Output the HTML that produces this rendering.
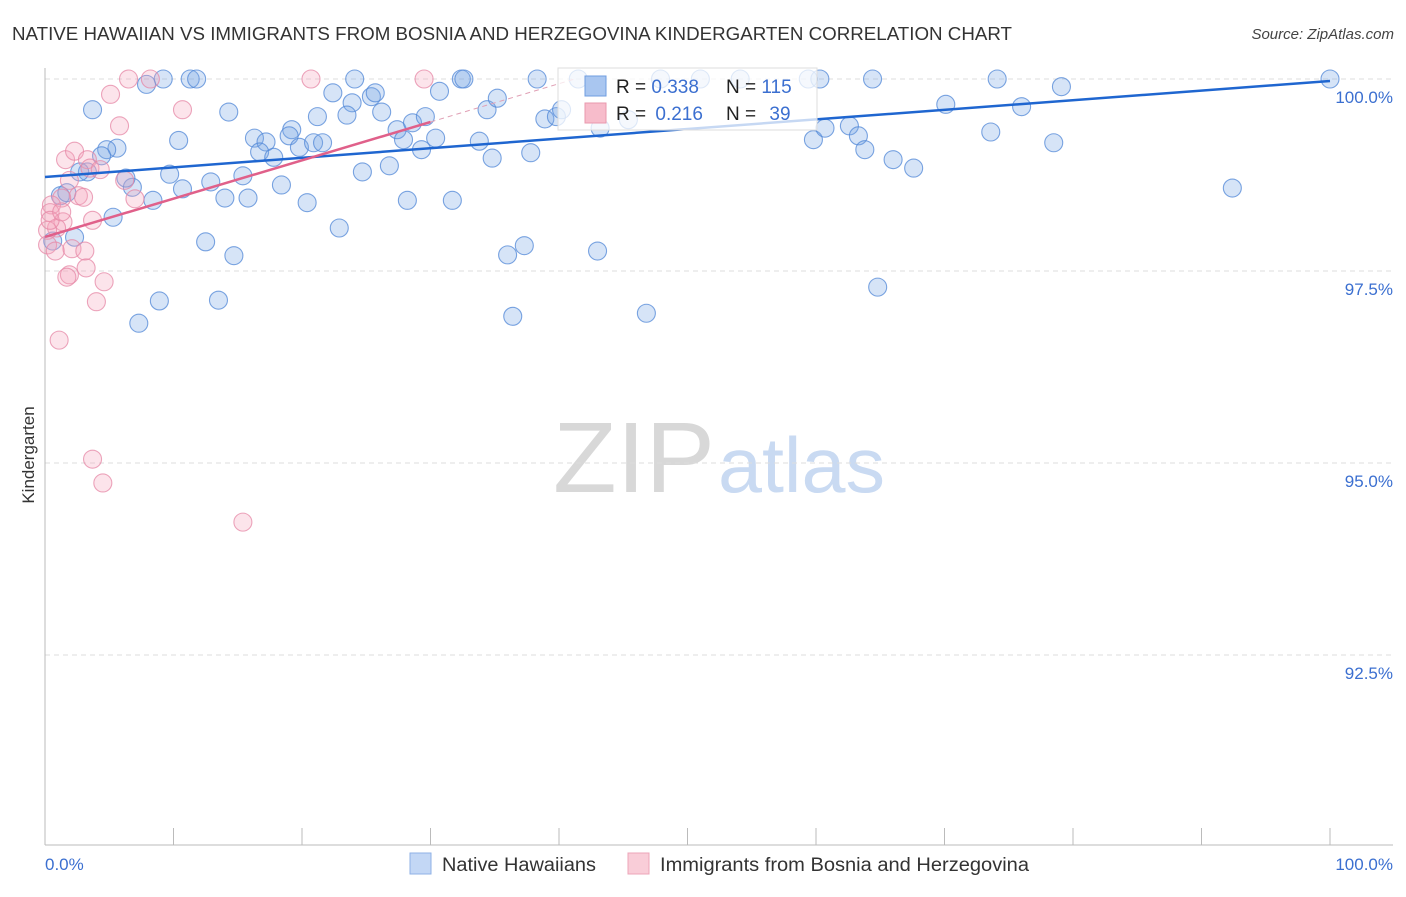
<!DOCTYPE html>
<html><head><meta charset="utf-8"><style>
body{margin:0;background:#fff;font-family:"Liberation Sans",sans-serif}
svg text{font-family:"Liberation Sans",sans-serif}
</style></head><body>
<svg id="chart" width="1406" height="892" xmlns="http://www.w3.org/2000/svg">
<text x="12" y="40" font-size="18" fill="#333" textLength="1000" lengthAdjust="spacingAndGlyphs">NATIVE HAWAIIAN VS IMMIGRANTS FROM BOSNIA AND HERZEGOVINA KINDERGARTEN CORRELATION CHART</text>
<text x="1394" y="39" font-size="15" fill="#444" text-anchor="end" font-style="italic">Source: ZipAtlas.com</text>
<g>
<text x="553" y="492" font-size="100" fill="#d8d8d8" font-family="Liberation Serif" textLength="162" lengthAdjust="spacingAndGlyphs">ZIP</text>
<text x="718" y="492" font-size="78" fill="#c9daf2" textLength="167" lengthAdjust="spacingAndGlyphs">atlas</text>
</g>
<g id="grid"></g>
<g id="axes"></g>
<g id="pts"></g>
<g id="trends"></g>
<g>
<rect x="558" y="68" width="259" height="62" fill="rgba(255,255,255,0.75)" stroke="#ddd"/>
<rect x="585" y="76" width="21" height="20" fill="#a9c6f0" stroke="#6f9de0"/>
<rect x="585" y="103" width="21" height="20" fill="#f7bccb" stroke="#ea98ae"/>
<text x="616" y="93" font-size="19" fill="#222">R = <tspan fill="#3b6fd0">0.338</tspan></text>
<text x="726" y="93" font-size="19" fill="#222">N = <tspan fill="#3b6fd0">115</tspan></text>
<text x="616" y="120" font-size="19" fill="#222">R = <tspan fill="#3b6fd0" dx="4">0.216</tspan></text>
<text x="726" y="120" font-size="19" fill="#222">N = <tspan fill="#3b6fd0" dx="8">39</tspan></text>
</g>
<text transform="translate(34,455) rotate(-90)" font-size="17" fill="#333" text-anchor="middle">Kindergarten</text>
<text x="45" y="870" font-size="17" fill="#3b6fd0">0.0%</text>
<text x="1393" y="870" font-size="17" fill="#3b6fd0" text-anchor="end">100.0%</text>
<g>
<rect x="410" y="853" width="21" height="21" fill="#c3d7f5" stroke="#8fb1e6"/>
<text x="442" y="871" font-size="19" fill="#333" textLength="154" lengthAdjust="spacingAndGlyphs">Native Hawaiians</text>
<rect x="628" y="853" width="21" height="21" fill="#f9cdd8" stroke="#eda5b8"/>
<text x="660" y="871" font-size="19" fill="#333" textLength="369" lengthAdjust="spacingAndGlyphs">Immigrants from Bosnia and Herzegovina</text>
</g>
</svg>
<script>
const yTicks=[100,97.5,95,92.5];
const yTickLabels=["100.0%","97.5%","95.0%","92.5%"];
const xTicks=[0,10,20,30,40,50,60,70,80,90,100];
const blueX=[9.2,11.3,11.8,7.9,3.7,14.3,10.4,5.6,4.8,4.4,3.3,2.7,1.2,1.7,6.8,6.3,8.4,10.7,12.9,14.0,15.4,15.8,9.7,5.3,2.3,0.6,12.5,14.7,8.9,13.5,7.3,16.3,17.2,16.7,17.8,19.2,19.0,19.8,20.9,21.6,21.2,22.4,23.9,24.1,25.4,25.7,23.5,26.2,24.7,26.8,18.4,20.4,22.9,27.4,27.9,28.6,29.6,29.3,30.4,30.7,32.4,32.6,34.4,35.2,33.8,34.8,37.8,28.2,31.7,36.0,37.3,36.4,43.0,46.8,38.3,41.5,38.9,39.8,40.2,43.2,45.4,47.9,51.0,54.1,59.4,60.3,59.8,60.7,62.6,63.3,63.8,64.4,66.0,67.6,64.8,70.1,73.6,74.1,76.0,79.1,78.5,92.4,100];
const blueY=[100,100,100,99.93,99.6,99.57,99.2,99.1,99.08,99.0,98.79,98.79,98.48,98.52,98.59,98.71,98.42,98.57,98.66,98.45,98.74,98.45,98.76,98.2,97.94,97.89,97.88,97.7,97.11,97.12,96.82,99.23,99.18,99.05,98.98,99.34,99.26,99.11,99.17,99.17,99.51,99.82,99.69,100,99.77,99.82,99.53,99.57,98.79,98.87,98.62,98.39,98.06,99.34,99.21,99.43,99.51,99.08,99.23,99.84,100,100,99.6,99.75,99.19,98.97,99.04,98.42,98.42,97.71,97.83,96.91,97.76,96.95,100,100,99.48,99.51,99.6,99.36,99.47,100,100,100,100,100,99.21,99.36,99.39,99.26,99.08,100,98.95,98.84,97.29,99.67,99.31,100,99.64,99.9,99.17,98.58,100];
const pinkX=[6.5,8.2,20.7,29.5,5.1,5.8,10.7,1.6,2.3,3.3,3.5,4.3,1.9,6.2,2.6,3.0,1.3,7.0,0.5,0.4,3.7,1.4,0.9,0.2,0.2,0.8,2.1,3.1,3.2,1.9,1.7,4.6,4.0,1.1,3.7,4.5,15.4,0.4,1.3];
const pinkY=[100,100,100,100,99.8,99.39,99.6,98.95,99.06,98.95,98.84,98.82,98.68,98.68,98.48,98.46,98.45,98.44,98.36,98.26,98.16,98.14,98.06,98.03,97.84,97.76,97.79,97.76,97.54,97.45,97.42,97.36,97.1,96.6,95.05,94.74,94.23,98.16,98.27];
const blueTrend=[98.724,99.974]; // y at x=0, x=100
const pinkTrend=[97.943,99.44];  // y at x=0, x=30
const NS="http://www.w3.org/2000/svg";
const sx=v=>45+v*12.85;
const sy=v=>79+(100-v)*76.8;
function mk(t,a,p){const e=document.createElementNS(NS,t);for(const k in a)e.setAttribute(k,a[k]);document.getElementById(p).appendChild(e);return e;}
yTicks.forEach((t,i)=>{
 const g=mk('line',{x1:45,x2:1393,y1:sy(t),y2:sy(t),stroke:'#ddd','stroke-dasharray':'5,4'},'grid');
 
 
 const l=mk('text',{x:1393,y:sy(t)+24,'font-size':17,fill:'#3b6fd0','text-anchor':'end'},'grid');
 l.textContent=yTickLabels[i];
 
 
});
const ya=mk('line',{x1:45,x2:45,y1:68,y2:845,stroke:'#bbb'},'axes');


const xa=mk('line',{x1:45,x2:1393,y1:845,y2:845,stroke:'#bbb'},'axes');


xTicks.forEach(t=>{
 const k=mk('line',{x1:sx(t),x2:sx(t),y1:828,y2:845,stroke:'#bbb'},'axes');
 
 
});
blueX.forEach((x,i)=>{
 const c=mk('circle',{cx:sx(x),cy:sy(blueY[i]),r:9,fill:'rgba(120,165,230,0.3)',stroke:'rgba(80,135,215,0.75)','stroke-width':1.1},'pts');
 
 
});
pinkX.forEach((x,i)=>{
 const c=mk('circle',{cx:sx(x),cy:sy(pinkY[i]),r:9,fill:'rgba(245,165,190,0.3)',stroke:'rgba(230,135,165,0.75)','stroke-width':1.1},'pts');
 
 
});
const bt=mk('line',{x1:sx(0),y1:sy(blueTrend[0]),x2:sx(100),y2:sy(blueTrend[1]),stroke:'#1f66d0','stroke-width':2.5},'trends');


const slope=(pinkTrend[1]-pinkTrend[0])/30;
const pt=mk('line',{x1:sx(0),y1:sy(pinkTrend[0]),x2:sx(30),y2:sy(pinkTrend[1]),stroke:'#e0608a','stroke-width':2.5},'trends');


const xe=(100-pinkTrend[0])/slope;
const pd=mk('line',{x1:sx(30),y1:sy(pinkTrend[1]),x2:sx(xe),y2:sy(100),stroke:'#e0a0b5','stroke-width':1,'stroke-dasharray':'5,4'},'trends');


</script>
</body></html>
